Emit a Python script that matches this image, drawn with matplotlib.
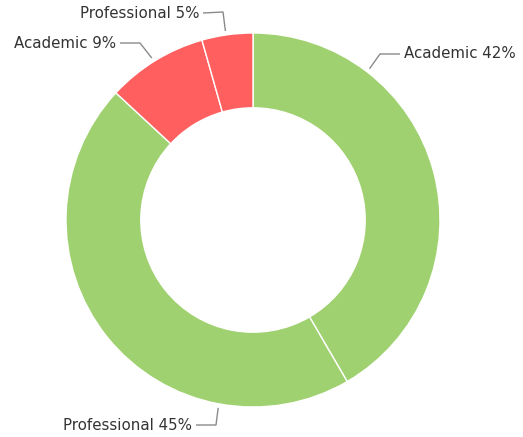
import matplotlib
matplotlib.use("Agg")
import matplotlib.pyplot as plt
import numpy as np

# slices, clockwise from 12 o'clock
labels = ["Academic 42%", "Professional 45%", "Academic 9%", "Professional 5%"]
values = [41.6, 45.3, 8.7, 4.4]
colors = ["#A0D170", "#A0D170", "#FF5F5F", "#FF5F5F"]

# label layout (pixel space, y measured from top): anchor angle on the ring
# (degrees clockwise from top), elbow point, text point
anchor_deg = [37.6, 190.5, 328.0, 351.7]
elbows = [(380, 54), (216, 425), (140, 43), (223, 12)]
text_pos = [(404, 54), (192, 425), (116, 43), (199, 13)]
text_ha = ["left", "right", "right", "right"]

W, H = 523, 437
cx, cy, R = 253, 217, 187

fig = plt.figure(figsize=(W / 100, H / 100), dpi=100)
ax = fig.add_axes([0, 0, 1, 1])

ax.pie(values, colors=colors, startangle=90, counterclock=False,
       center=(cx, cy), radius=R,
       wedgeprops=dict(width=R * 0.4, edgecolor="white", linewidth=1))

# pie() resets limits, so set them afterwards
ax.set_xlim(0, W)
ax.set_ylim(0, H)
ax.set_aspect("equal")
ax.axis("off")

for i, lab in enumerate(labels):
    a = np.deg2rad(anchor_deg[i])
    r = R + 4
    x0 = cx + r * np.sin(a)
    y0 = cy + r * np.cos(a)
    ex, ey = elbows[i]
    tx, ty = text_pos[i]
    ey = H - ey
    ty = H - ty
    ax.plot([x0, ex, tx + (-4 if text_ha[i] == "left" else 4)], [y0, ey, ty],
            color="#8a8a8a", lw=1, solid_capstyle="butt")
    ax.text(tx, ty, lab, ha=text_ha[i], va="center", fontsize=10.8,
            color="#333333", family="DejaVu Sans")

fig.savefig("out.png", dpi=100)
